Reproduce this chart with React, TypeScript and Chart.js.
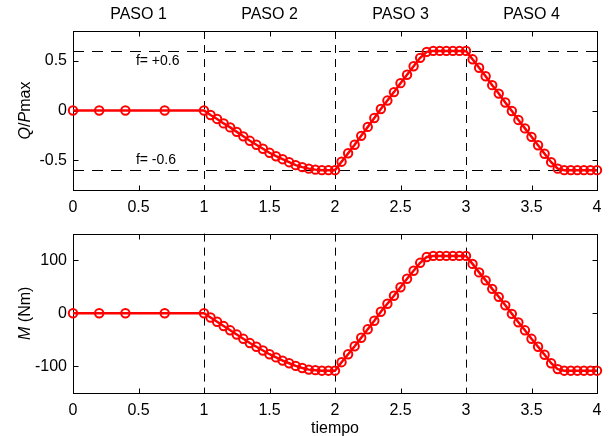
import React, { useEffect, useRef } from 'react';
import { Chart, registerables } from 'chart.js';
Chart.register(...registerables);

const FONT = '"Liberation Sans", Arial, Helvetica, sans-serif';

// time (s)
const tiempo = [
  0, 0.2, 0.4, 0.7, 1.0,
  1.05, 1.1, 1.15, 1.2, 1.25, 1.3, 1.35, 1.4, 1.45, 1.5, 1.55, 1.6, 1.65, 1.7, 1.75, 1.8, 1.85, 1.9, 1.95, 2.0,
  2.05, 2.1, 2.15, 2.2, 2.25, 2.3, 2.35, 2.4, 2.45, 2.5, 2.55, 2.6, 2.65, 2.7, 2.75, 2.8, 2.85, 2.9, 2.95, 3.0,
  3.05, 3.1, 3.15, 3.2, 3.25, 3.3, 3.35, 3.4, 3.45, 3.5, 3.55, 3.6, 3.65, 3.7, 3.75, 3.8, 3.85, 3.9, 3.95, 4.0,
];

// Q/Pmax
const qPmax = [
  0, 0, 0, 0, 0,
  -0.045, -0.085, -0.13, -0.17, -0.215, -0.26, -0.305, -0.345, -0.385, -0.425, -0.46, -0.49, -0.52, -0.55, -0.57, -0.585, -0.595, -0.6, -0.6, -0.6,
  -0.515, -0.43, -0.345, -0.255, -0.165, -0.075, 0.015, 0.1, 0.185, 0.275, 0.36, 0.445, 0.53, 0.59, 0.6, 0.6, 0.6, 0.6, 0.6, 0.6,
  0.515, 0.43, 0.345, 0.255, 0.17, 0.08, -0.005, -0.095, -0.18, -0.265, -0.35, -0.435, -0.52, -0.585, -0.6, -0.6, -0.6, -0.6, -0.6, -0.6,
];

// M (Nm)
const momento = [
  0, 0, 0, 0, 0,
  -8, -16, -24, -32, -40, -48, -56, -63, -70, -77, -83, -89, -94, -99, -103, -106, -107, -108, -108, -108,
  -92, -77, -62, -46, -30, -14, 3, 18, 33, 49, 65, 80, 95, 106, 108, 108, 108, 108, 108, 108,
  93, 77, 62, 46, 31, 15, -1, -17, -32, -48, -63, -78, -94, -105, -108, -108, -108, -108, -108, -108,
];

const xTicks = [0, 0.5, 1, 1.5, 2, 2.5, 3, 3.5, 4];
const qTicks = [-0.5, 0, 0.5];
const mTicks = [-100, 0, 100];
const limites = [0.6, -0.6];
const limiteLabels = ['f= +0.6', 'f= -0.6'];
const limiteLabelY = [0.5, -0.5];
const limiteLabelX = 0.48;
const pasoBounds = [1, 2, 3];
const pasoLabels = ['PASO 1', 'PASO 2', 'PASO 3', 'PASO 4'];
const pasoCenters = [0.5, 1.5, 2.5, 3.5];

type Part = { t: string; italic?: boolean };

function drawParts(ctx: CanvasRenderingContext2D, parts: Part[], cx: number, cy: number, size: number) {
  ctx.save();
  ctx.translate(cx, cy);
  ctx.rotate(-Math.PI / 2);
  ctx.textBaseline = 'middle';
  ctx.textAlign = 'left';
  ctx.fillStyle = '#000';
  const widths = parts.map((p) => {
    ctx.font = `${p.italic ? 'italic ' : ''}${size}px ${FONT}`;
    return ctx.measureText(p.t).width;
  });
  const total = widths.reduce((a, b) => a + b, 0);
  let xx = -total / 2;
  parts.forEach((p, i) => {
    ctx.font = `${p.italic ? 'italic ' : ''}${size}px ${FONT}`;
    ctx.fillText(p.t, xx, 0);
    xx += widths[i];
  });
  ctx.restore();
}

interface Cfg {
  values: number[];
  yMin: number;
  yMax: number;
  yTicks: number[];
  padTop: number;
  xAxisHeight: number;
  yTitle: Part[];
  showRef: boolean;
  showPaso: boolean;
  xTitle?: string;
  xTitleY?: number;
}

function buildConfig(c: Cfg): any {
  const decor = {
    id: 'decor',
    beforeDatasetsDraw(chart: any) {
      const { ctx, chartArea: a, scales } = chart;
      const x = scales.x;
      const y = scales.y;
      ctx.save();
      ctx.strokeStyle = '#000';
      ctx.lineWidth = 1;
      ctx.setLineDash([8, 6]);
      for (const b of pasoBounds) {
        const px = Math.round(x.getPixelForValue(b)) + 0.5;
        ctx.beginPath();
        ctx.moveTo(px, a.top);
        ctx.lineTo(px, a.bottom);
        ctx.stroke();
      }
      if (c.showRef) {
        ctx.setLineDash([11, 8]);
        for (const v of limites) {
          const py = Math.round(y.getPixelForValue(v)) + 0.5;
          ctx.beginPath();
          ctx.moveTo(a.left, py);
          ctx.lineTo(a.right, py);
          ctx.stroke();
        }
      }
      ctx.setLineDash([]);
      const l = Math.round(a.left) + 0.5;
      const r = Math.round(a.right) + 0.5;
      const t = Math.round(a.top) + 0.5;
      const bt = Math.round(a.bottom) + 0.5;
      ctx.strokeStyle = '#000';
      ctx.strokeRect(l, t, r - l, bt - t);
      const tl = 5;
      ctx.beginPath();
      for (const v of xTicks) {
        const px = Math.round(x.getPixelForValue(v)) + 0.5;
        ctx.moveTo(px, bt);
        ctx.lineTo(px, bt - tl);
        ctx.moveTo(px, t);
        ctx.lineTo(px, t + tl);
      }
      for (const v of c.yTicks) {
        const py = Math.round(y.getPixelForValue(v)) + 0.5;
        ctx.moveTo(l, py);
        ctx.lineTo(l + tl, py);
        ctx.moveTo(r, py);
        ctx.lineTo(r - tl, py);
      }
      ctx.stroke();
      ctx.restore();
    },
    afterDraw(chart: any) {
      const { ctx, chartArea: a, scales } = chart;
      const x = scales.x;
      const y = scales.y;
      ctx.save();
      ctx.fillStyle = '#000';
      if (c.showRef) {
        ctx.font = `14px ${FONT}`;
        ctx.textAlign = 'left';
        ctx.textBaseline = 'middle';
        limiteLabels.forEach((s, i) => {
          ctx.fillText(s, x.getPixelForValue(limiteLabelX), y.getPixelForValue(limiteLabelY[i]));
        });
      }
      if (c.showPaso) {
        ctx.font = `16px ${FONT}`;
        ctx.textAlign = 'center';
        ctx.textBaseline = 'middle';
        pasoLabels.forEach((s, i) => {
          ctx.fillText(s, x.getPixelForValue(pasoCenters[i]), 15);
        });
      }
      if (c.xTitle) {
        ctx.font = `16px ${FONT}`;
        ctx.textAlign = 'center';
        ctx.textBaseline = 'middle';
        ctx.fillText(c.xTitle, (a.left + a.right) / 2, c.xTitleY || 0);
      }
      ctx.restore();
      drawParts(ctx, c.yTitle, 26, (a.top + a.bottom) / 2, 16);
    },
  };

  return {
    type: 'line',
    data: {
      datasets: [
        {
          data: tiempo.map((t, i) => ({ x: t, y: c.values[i] })),
          borderColor: '#ff0000',
          borderWidth: 2.5,
          pointRadius: 4.2,
          pointBorderWidth: 2,
          pointBorderColor: '#ff0000',
          pointBackgroundColor: 'rgba(255,255,255,0)',
          tension: 0,
          clip: false,
        },
      ],
    },
    options: {
      animation: false,
      responsive: false,
      maintainAspectRatio: false,
      devicePixelRatio: 1,
      layout: { padding: { left: 0, right: 13, top: c.padTop, bottom: 0 } },
      plugins: { legend: { display: false }, tooltip: { enabled: false } },
      scales: {
        x: {
          type: 'linear',
          min: 0,
          max: 4,
          grid: { display: false, drawTicks: false },
          border: { display: false },
          afterBuildTicks: (s: any) => {
            s.ticks = xTicks.map((v) => ({ value: v }));
          },
          afterFit: (s: any) => {
            s.height = c.xAxisHeight;
          },
          ticks: {
            autoSkip: false,
            maxRotation: 0,
            padding: 8,
            color: '#000',
            font: { family: FONT, size: 16 },
            callback: (v: any) => String(v),
          },
        },
        y: {
          type: 'linear',
          min: c.yMin,
          max: c.yMax,
          grid: { display: false, drawTicks: false },
          border: { display: false },
          afterBuildTicks: (s: any) => {
            s.ticks = c.yTicks.map((v) => ({ value: v }));
          },
          afterFit: (s: any) => {
            s.width = 73;
          },
          ticks: {
            autoSkip: false,
            padding: 6,
            color: '#000',
            font: { family: FONT, size: 16 },
            callback: (v: any) => String(v),
          },
        },
      },
    },
    plugins: [decor],
  };
}

export default function App() {
  const topRef = useRef<HTMLCanvasElement>(null);
  const botRef = useRef<HTMLCanvasElement>(null);

  useEffect(() => {
    const c1 = new Chart(
      topRef.current as HTMLCanvasElement,
      buildConfig({
        values: qPmax,
        yMin: -0.8,
        yMax: 0.8,
        yTicks: qTicks,
        padTop: 31,
        xAxisHeight: 28,
        yTitle: [{ t: 'Q', italic: true }, { t: '/' }, { t: 'P', italic: true }, { t: 'max' }],
        showRef: true,
        showPaso: true,
      })
    );
    const c2 = new Chart(
      botRef.current as HTMLCanvasElement,
      buildConfig({
        values: momento,
        yMin: -150,
        yMax: 150,
        yTicks: mTicks,
        padTop: 15,
        xAxisHeight: 43,
        yTitle: [{ t: 'M', italic: true }, { t: ' (Nm)' }],
        showRef: false,
        showPaso: false,
        xTitle: 'tiempo',
        xTitleY: 211,
      })
    );
    return () => {
      c1.destroy();
      c2.destroy();
    };
  }, []);

  return (
    <div style={{ position: 'fixed', left: 0, top: 0, width: 610, height: 436, background: '#fff' }}>
      <canvas
        ref={topRef}
        width={610}
        height={218}
        style={{ position: 'absolute', left: 0, top: 0, width: 610, height: 218 }}
      />
      <canvas
        ref={botRef}
        width={610}
        height={218}
        style={{ position: 'absolute', left: 0, top: 218, width: 610, height: 218 }}
      />
    </div>
  );
}
